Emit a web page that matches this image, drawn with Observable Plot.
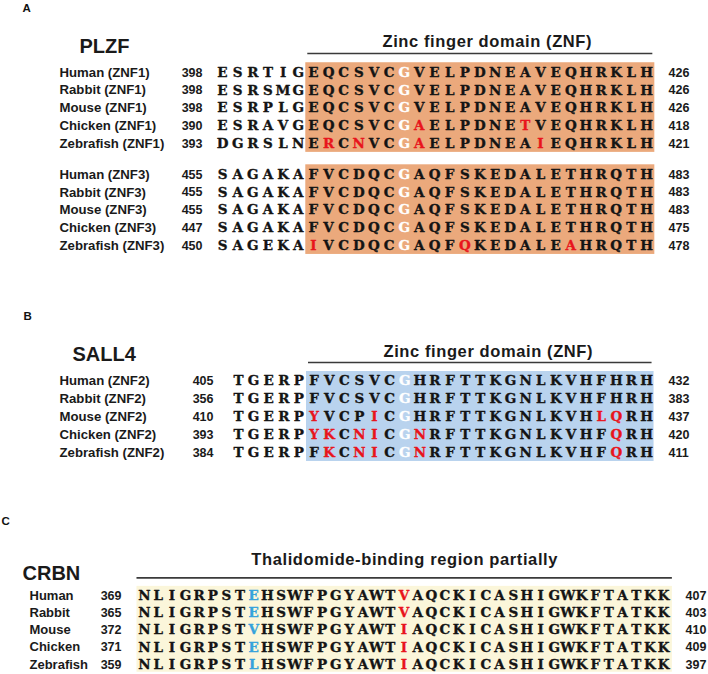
<!DOCTYPE html>
<html><head><meta charset="utf-8">
<script src="https://cdn.jsdelivr.net/npm/d3@7"></script>
<script src="https://cdn.jsdelivr.net/npm/@observablehq/plot@0.6"></script>
<style>
body{margin:0;background:#fff}
#chart svg{display:block;overflow:visible}
</style>
</head><body><div id="chart"></div>
<script>
// ---------- DATA ----------
// PLZF, zinc finger 1
const plzf1Labels = ["Human (ZNF1)","Rabbit (ZNF1)","Mouse (ZNF1)","Chicken (ZNF1)","Zebrafish (ZNF1)"];
const plzf1Start = [398,398,398,390,393];
const plzf1End = [426,426,426,418,421];
const plzf1Seq = [
  "ESRTIGEQCSVCGVELPDNEAVEQHRKLH",
  "ESRSMGEQCSVCGVELPDNEAVEQHRKLH",
  "ESRPLGEQCSVCGVELPDNEAVEQHRKLH",
  "ESRAVGEQCSVCGAELPDNETVEQHRKLH",
  "DGRSLNERCNVCGAELPDNEAIEQHRKLH"
];
const plzf1Red = [[],[],[],[13,20],[7,9,13,21]];
const plzf1White = [12];

// PLZF, zinc finger 3
const plzf3Labels = ["Human (ZNF3)","Rabbit (ZNF3)","Mouse (ZNF3)","Chicken (ZNF3)","Zebrafish (ZNF3)"];
const plzf3Start = [455,455,455,447,450];
const plzf3End = [483,483,483,475,478];
const plzf3Seq = [
  "SAGAKAFVCDQCGAQFSKEDALETHRQTH",
  "SAGAKAFVCDQCGAQFSKEDALETHRQTH",
  "SAGAKAFVCDQCGAQFSKEDALETHRQTH",
  "SAGAKAFVCDQCGAQFSKEDALETHRQTH",
  "SAGEKAIVCDQCGAQFQKEDALEAHRQTH"
];
const plzf3Red = [[],[],[],[],[6,16,23]];
const plzf3White = [12];

// SALL4, zinc finger 2
const sallLabels = ["Human (ZNF2)","Rabbit (ZNF2)","Mouse (ZNF2)","Chicken (ZNF2)","Zebrafish (ZNF2)"];
const sallStart = [405,356,410,393,384];
const sallEnd = [432,383,437,420,411];
const sallSeq = [
  "TGERPFVCSVCGHRFTTKGNLKVHFHRH",
  "TGERPFVCSVCGHRFTTKGNLKVHFHRH",
  "TGERPYVCPICGHRFTTKGNLKVHLQRH",
  "TGERPYKCNICGNRFTTKGNLKVHFQRH",
  "TGERPFKCNICGNRFTTKGNLKVHFQRH"
];
const sallRed = [[],[],[5,9,24,25],[5,6,8,9,12,25],[6,8,9,12,25]];
const sallWhite = [11];

// CRBN
const crbnLabels = ["Human","Rabbit","Mouse","Chicken","Zebrafish"];
const crbnStart = [369,365,372,371,359];
const crbnEnd = [407,403,410,409,397];
const crbnSeq = [
  "NLIGRPSTEHSWFPGYAWTVAQCKICASHIGWKFTATKK",
  "NLIGRPSTEHSWFPGYAWTVAQCKICASHIGWKFTATKK",
  "NLIGRPSTVHSWFPGYAWTIAQCKICASHIGWKFTATKK",
  "NLIGRPSTEHSWFPGYAWTIAQCKICASHIGWKFTATKK",
  "NLIGRPSTLHSWFPGYAWTIAQCKICASHIGWKFTATKK"
];
const crbnRed = [[19],[19],[19],[19],[19]];
const crbnBlue = [[8],[8],[8],[8],[8]];

// ---------- STYLE ----------
const SANS = "'Liberation Sans', Arial, Helvetica, sans-serif";
const SERIF = "'DejaVu Serif', serif";
const RED = "#e8141c", BLUE = "#35a2dc", WHITE = "#ffffff", BLACK = "#141414";

function makeBlock(labels, start, end, seq, red, white, blue, offset) {
  const rows = labels.map((label, i) => ({label, start: start[i], end: end[i], row: offset + i, last: seq[i].length - 1}));
  const residues = [];
  seq.forEach((s, i) => {
    [...s].forEach((ch, c) => {
      let color = BLACK;
      if (white && white.includes(c)) color = WHITE;
      if (red && red[i].includes(c)) color = RED;
      if (blue && blue[i].includes(c)) color = BLUE;
      residues.push({col: c, row: offset + i, ch, color});
    });
  });
  return {rows, residues, nRows: labels.length, offset, nCols: seq[0].length};
}

function panel(o) {
  const rows = o.blocks.flatMap(b => b.rows);
  const residues = o.blocks.flatMap(b => b.residues);
  const nCols = o.blocks[0].nCols;
  const boxX1 = o.boxStart - o.padL, boxX2 = nCols - 1 + o.padR;
  const boxes = o.blocks.map(b => ({x1: boxX1, x2: boxX2, y1: b.offset - o.padT, y2: b.offset + b.nRows - 1 + o.padB}));
  const svg = Plot.plot({
    width: 708, height: o.height, margin: 0,
    x: {domain: [0, nCols - 1], range: o.xRange, axis: null},
    y: {domain: [0, 4], range: o.yRange, axis: null},
    color: {type: "identity"},
    marks: [
      Plot.rect(boxes, {x1: "x1", x2: "x2", y1: "y1", y2: "y2", fill: o.boxFill}),
      Plot.ruleY([o.ruleRow], {x1: boxX1, x2: boxX2, stroke: "#3a3a3a", strokeWidth: 1.6, insetLeft: o.ruleInset, insetRight: o.ruleInset}),
      Plot.text([o.header], {x: (boxX1 + boxX2) / 2, y: o.headerRow, text: d => d, dx: o.headerDx,
        fontFamily: SANS, fontWeight: "bold", fontSize: 16.5, fill: "#1a1a1a"}),
      Plot.text([o.letter], {frameAnchor: "top-left", lineAnchor: "middle", text: d => d, dx: o.letterX, dy: o.letterY,
        textAnchor: "start", fontFamily: SANS, fontWeight: "bold", fontSize: 11.5, fill: "#111"}),
      Plot.text([o.title], {frameAnchor: "top-left", lineAnchor: "middle", text: d => d, dx: o.titleX, dy: o.titleY,
        textAnchor: "start", fontFamily: SANS, fontWeight: "bold", fontSize: 20, fill: "#1a1a1a"}),
      Plot.text(rows, {frameAnchor: "left", lineAnchor: "middle", y: "row", text: "label", dx: o.labelX, textAnchor: "start",
        fontFamily: SANS, fontWeight: "bold", fontSize: o.labelSize, fill: "#1a1a1a"}),
      Plot.text(rows, {x: () => 0, y: "row", text: "start", dx: o.startDx, textAnchor: "end",
        fontFamily: SANS, fontWeight: "bold", fontSize: 12.5, fill: "#1a1a1a"}),
      Plot.text(rows, {x: "last", y: "row", text: "end", dx: o.endDx, textAnchor: "start",
        fontFamily: SANS, fontWeight: "bold", fontSize: 12.5, fill: "#1a1a1a"}),
      Plot.text(residues, {x: "col", y: "row", text: "ch", fill: "color", stroke: "color", strokeWidth: 0.35,
        fontFamily: SERIF, fontWeight: "bold", fontSize: 13.5})
    ]
  });
  d3.select(svg).selectAll("text").filter(function() { return this.textContent === o.header; })
    .style("letter-spacing", "0.6px");
  return svg;
}

const chart = document.getElementById("chart");

chart.append(panel({
  height: 300,
  blocks: [
    makeBlock(plzf1Labels, plzf1Start, plzf1End, plzf1Seq, plzf1Red, plzf1White, null, 0),
    makeBlock(plzf3Labels, plzf3Start, plzf3End, plzf3Seq, plzf3Red, plzf3White, null, 5.75)
  ],
  boxStart: 6, padL: 0.5, padR: 0.55, padT: 0.55, padB: 0.5,
  xRange: [222, 646], yRange: [72, 143],
  boxFill: "#eba97c",
  ruleRow: -1.07, ruleInset: 2,
  header: "Zinc finger domain (ZNF)", headerRow: -1.72, headerDx: 7,
  letter: "A", letterX: 22, letterY: 8,
  title: "PLZF", titleX: 79, titleY: 46,
  labelX: 59, labelSize: 13.2, startDx: -20, endDx: 22
}));

chart.append(panel({
  height: 190,
  blocks: [makeBlock(sallLabels, sallStart, sallEnd, sallSeq, sallRed, sallWhite, null, 0)],
  boxStart: 5, padL: 0.5, padR: 0.5, padT: 0.5, padB: 0.5,
  xRange: [238, 646], yRange: [80, 152],
  boxFill: "#b9d3ee",
  ruleRow: -1.0, ruleInset: 2,
  header: "Zinc finger domain (ZNF)", headerRow: -1.62, headerDx: 8,
  letter: "B", letterX: 23, letterY: 16,
  title: "SALL4", titleX: 72, titleY: 54,
  labelX: 59, labelSize: 13.2, startDx: -25, endDx: 22
}));

chart.append(panel({
  height: 184,
  blocks: [makeBlock(crbnLabels, crbnStart, crbnEnd, crbnSeq, crbnRed, null, crbnBlue, 0)],
  boxStart: 0, padL: 0.55, padR: 0.65, padT: 0.53, padB: 0.45,
  xRange: [144, 663], yRange: [105, 174],
  boxFill: "#fbf6da",
  ruleRow: -1.02, ruleInset: 0,
  header: "Thalidomide-binding region partially", headerRow: -2.1, headerDx: 0,
  letter: "C", letterX: 1, letterY: 31,
  title: "CRBN", titleX: 22, titleY: 83,
  labelX: 29, labelSize: 13, startDx: -23, endDx: 22
}));
</script>
</body></html>
